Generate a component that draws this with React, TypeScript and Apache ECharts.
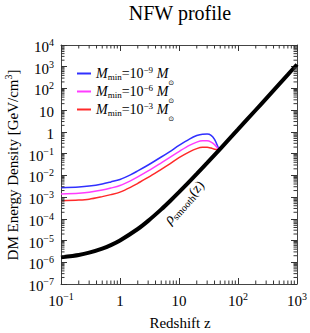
import React, { useEffect, useRef } from "react";
import * as echarts from "echarts";

// ---- data ----
const zSmooth = [0.1, 0.2, 0.3, 0.5, 0.7, 1, 2, 3, 5, 7, 10, 20, 30, 50, 70, 100, 200, 300, 500, 700, 1000];
const rhoSmooth = [1.68e-6, 2.18e-6, 2.77e-6, 4.25e-6, 6.19e-6, 1.01e-5, 3.4e-5, 8.06e-5, 2.72e-4, 6.45e-4, 1.68e-3, 1.17e-2, 3.76e-2, 0.167, 0.454, 1.3, 10.2, 34.2, 158, 433, 1270];

const zHalo = [0.1, 0.2, 0.3, 0.5, 0.7, 1, 1.5, 2, 3, 5, 7, 10, 15, 20, 25, 30, 35, 40, 47];
const rhoHalo9 = [2.7e-3, 2.9e-3, 3.2e-3, 4.0e-3, 5.0e-3, 6.5e-3, 1.05e-2, 1.6e-2, 3.0e-2, 7.0e-2, 0.125, 0.24, 0.47, 0.68, 0.79, 0.8, 0.7, 0.45, 0.17];
const rhoHalo6 = [1.4e-3, 1.5e-3, 1.65e-3, 2.1e-3, 2.6e-3, 3.4e-3, 5.6e-3, 8.5e-3, 1.6e-2, 3.8e-2, 6.8e-2, 0.125, 0.24, 0.34, 0.39, 0.39, 0.34, 0.26, 0.16];
const rhoHalo3 = [6.8e-4, 7.3e-4, 8.0e-4, 1.05e-3, 1.3e-3, 1.7e-3, 2.8e-3, 4.3e-3, 8.0e-3, 1.9e-2, 3.4e-2, 6.5e-2, 0.12, 0.17, 0.195, 0.195, 0.18, 0.16, 0.15];

const haloSeries = [rhoHalo9, rhoHalo6, rhoHalo3];
const haloNames = ["Mmin=1e-9", "Mmin=1e-6", "Mmin=1e-3"];
const haloExponents = ["−9", "−6", "−3"];
const haloColors = ["#3030ff", "#ff3cff", "#ff2a2a"];

const X_MIN = 0.1;
const X_MAX = 1000;
const Y_MIN = 1e-7;
const Y_MAX = 1e4;
const xDecades = [-1, 0, 1, 2];
const yDecades = [-7, -6, -5, -4, -3, -2, -1, 0, 1, 2, 3];
const mantissas = [2, 3, 4, 5, 6, 7, 8, 9];

const titleText = "NFW profile";
const xTitle = "Redshift z";
const yTitleMain = "DM Energy Density [GeV/cm";
const yTitleSup = "3";

const FONT = '"Liberation Serif", "DejaVu Serif", serif';
const FRAME = "#444";
const MINOR_LEN = 3.5;

const xMinor: number[] = [];
xDecades.forEach((e) => mantissas.forEach((m) => xMinor.push(m * Math.pow(10, e))));
const yMinor: number[] = [];
yDecades.forEach((e) => mantissas.forEach((m) => yMinor.push(m * Math.pow(10, e))));

function expLabel(v: number): string {
  const e = Math.round(Math.log10(v));
  if (e === 0) return "{b|1}";
  if (e === 1) return "{b|10}";
  return `{b|10}{s|${e < 0 ? "−" + -e : e}}`;
}

const labelRich = {
  b: { fontFamily: FONT, fontSize: 15, lineHeight: 16, color: "#000" },
  s: { fontFamily: FONT, fontSize: 10, lineHeight: 10, padding: [0, 0, 9, 0], color: "#000" },
};

// side: 0 bottom, 1 top, 2 left, 3 right
function minorTickSeries(side: number) {
  const isX = side < 2;
  const vals = isX ? xMinor : yMinor;
  const edge = side === 0 ? Y_MIN : side === 1 ? Y_MAX : side === 2 ? X_MIN : X_MAX;
  const dir = side === 0 ? [0, -1] : side === 1 ? [0, 1] : side === 2 ? [1, 0] : [-1, 0];
  return {
    type: "custom",
    clip: false,
    coordinateSystem: "cartesian2d",
    xAxisIndex: 0,
    yAxisIndex: 0,
    z: 5,
    data: vals.map((v) => (isX ? [v, edge] : [edge, v])),
    renderItem: (params: any, api: any) => {
      const p = api.coord([api.value(0), api.value(1)]);
      return {
        type: "line",
        shape: { x1: p[0], y1: p[1], x2: p[0] + dir[0] * MINOR_LEN, y2: p[1] + dir[1] * MINOR_LEN },
        style: { stroke: "#333", lineWidth: 1 },
      };
    },
  };
}

export default function App() {
  const ref = useRef<HTMLDivElement>(null);
  useEffect(() => {
    document.body.style.margin = "0";
    if (!ref.current) return;
    const chart = echarts.init(ref.current, undefined, { renderer: "svg" });

    const axisCommon = {
      type: "log" as const,
      logBase: 10,
      interval: 1,
      axisLine: { show: true, lineStyle: { color: FRAME, width: 1 } },
      axisTick: { show: true, inside: true, length: 6, lineStyle: { color: "#333", width: 1 } },
      splitLine: { show: false },
    };

    const legendRich = {
      m: { fontFamily: FONT, fontStyle: "italic", fontSize: 14, lineHeight: 14, color: "#000" },
      n: { fontFamily: FONT, fontSize: 14, lineHeight: 14, color: "#000" },
      sub: { fontFamily: FONT, fontSize: 9, lineHeight: 9, padding: [6, 0, 0, 0], color: "#000" },
      sup: { fontFamily: FONT, fontSize: 9, lineHeight: 9, padding: [0, 0, 8, 0], color: "#000" },
      sun: { fontFamily: "DejaVu Sans", fontSize: 7, lineHeight: 8, padding: [18, 0, 0, 0], color: "#000" },
    };

    const option: any = {
      animation: false,
      grid: { left: 61, right: 11, top: 45, bottom: 49 },
      xAxis: [
        {
          ...axisCommon,
          position: "bottom",
          min: X_MIN,
          max: X_MAX,
          axisLabel: { formatter: expLabel, margin: 9, rich: labelRich, fontFamily: FONT, color: "#000" },
        },
        { ...axisCommon, position: "top", min: X_MIN, max: X_MAX, axisLabel: { show: false } },
      ],
      yAxis: [
        {
          ...axisCommon,
          position: "left",
          min: Y_MIN,
          max: Y_MAX,
          axisLabel: { formatter: expLabel, margin: 7, rich: labelRich, fontFamily: FONT, color: "#000", padding: [4, 0, 0, 0] },
        },
        { ...axisCommon, position: "right", min: Y_MIN, max: Y_MAX, axisLabel: { show: false } },
      ],
      legend: {
        data: haloNames,
        orient: "vertical",
        left: 72,
        top: 56,
        itemGap: -7,
        itemWidth: 14,
        itemHeight: 2,
        icon: "rect",
        selectedMode: false,
        textStyle: { fontFamily: FONT, color: "#000", rich: legendRich },
        formatter: (name: string) => {
          const i = haloNames.indexOf(name);
          return `{m|M}{sub|min}{n|=10}{sup|${haloExponents[i]}}{n| }{m|M}{sun|⊙}`;
        },
      },
      graphic: [
        {
          type: "text",
          x: 180,
          y: 13,
          style: { text: titleText, fontFamily: FONT, fontSize: 20, fill: "#000", align: "center", verticalAlign: "middle" },
        },
        {
          type: "text",
          x: 180,
          y: 323,
          style: { text: xTitle, fontFamily: FONT, fontSize: 15, fill: "#000", align: "center", verticalAlign: "middle" },
        },
        {
          type: "text",
          x: 13,
          y: 165,
          rotation: Math.PI / 2,
          style: {
            text: `{a|${yTitleMain}}{s|${yTitleSup}}{a|]}`,
            align: "center",
            verticalAlign: "middle",
            rich: {
              a: { fontFamily: FONT, fontSize: 15, lineHeight: 16, fill: "#000" },
              s: { fontFamily: FONT, fontSize: 10, lineHeight: 10, padding: [0, 0, 9, 0], fill: "#000" },
            },
          },
        },
        {
          type: "text",
          x: 184,
          y: 202,
          rotation: 0.84,
          z: 10,
          style: {
            text: "{r|ρ}{s|smooth}{p|(z)}",
            align: "center",
            verticalAlign: "middle",
            rich: {
              r: { fontFamily: FONT, fontStyle: "italic", fontSize: 15, lineHeight: 15, fill: "#000" },
              s: { fontFamily: FONT, fontSize: 10, lineHeight: 10, padding: [7, 0, 0, 0], fill: "#000" },
              p: { fontFamily: FONT, fontSize: 14, lineHeight: 15, fill: "#000" },
            },
          },
        },
      ],
      series: [
        ...haloSeries.map((vals, i) => ({
          name: haloNames[i],
          type: "line",
          data: zHalo.map((z, j) => [z, vals[j]]),
          showSymbol: false,
          smooth: 0.3,
          color: haloColors[i],
          lineStyle: { color: haloColors[i], width: 1.5 },
          z: 2,
        })),
        {
          name: "smooth",
          type: "line",
          data: zSmooth.map((z, j) => [z, rhoSmooth[j]]),
          showSymbol: false,
          smooth: 0.2,
          color: "#000",
          lineStyle: { color: "#000", width: 4 },
          z: 3,
        },
        minorTickSeries(0),
        minorTickSeries(1),
        minorTickSeries(2),
        minorTickSeries(3),
      ],
    };
    chart.setOption(option);
    return () => chart.dispose();
  }, []);
  return <div ref={ref} style={{ width: 310, height: 333 }} />;
}
